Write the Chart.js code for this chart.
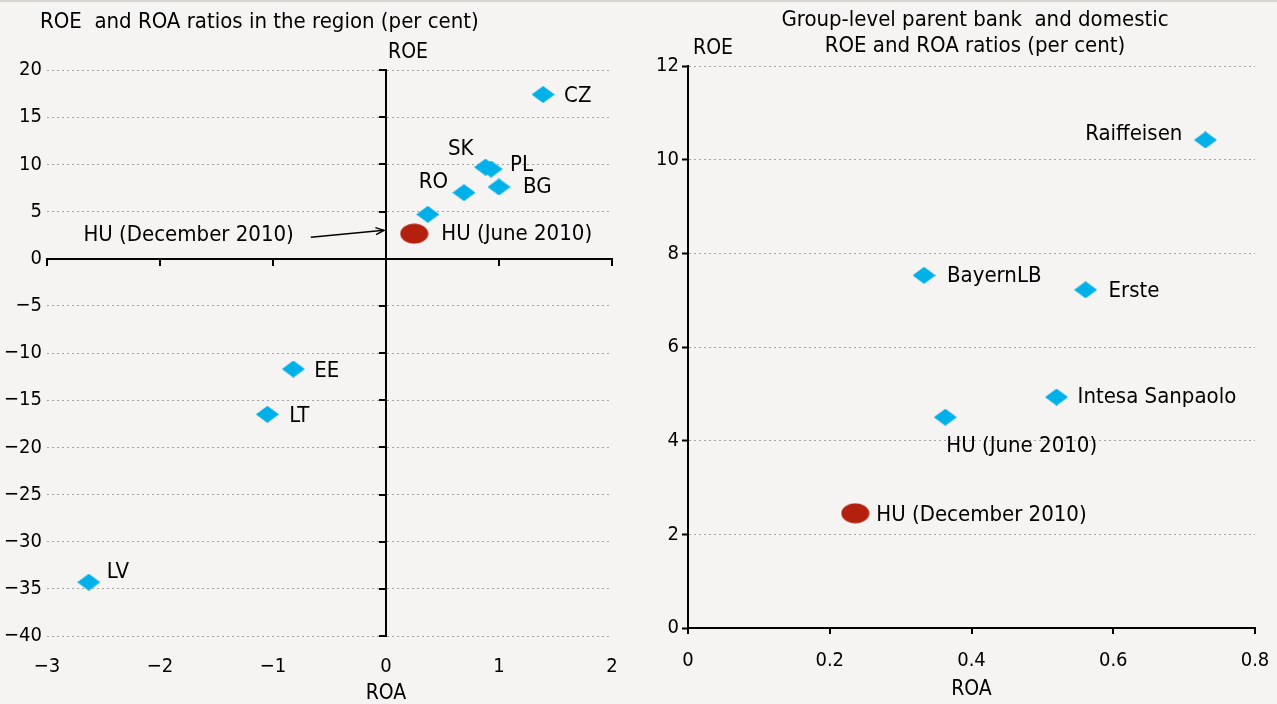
<!DOCTYPE html>
<html>
<head>
<meta charset="utf-8">
<script src="https://cdn.jsdelivr.net/npm/chart.js@4/dist/chart.umd.min.js"></script>
<style>
	body {
		margin: 0;
		width: 1277px;
		height: 704px;
		overflow: hidden;
		background: #f5f4f2;
	}
	.topline {
		position: absolute;
		left: 0;
		top: 0;
		width: 1277px;
		height: 2px;
		background: #d8d5d1;
	}
	.box {
		position: absolute;
		top: 0;
		height: 704px;
	}
	#leftBox { left: 0; width: 640px; }
	#rightBox { left: 640px; width: 637px; }
</style>
</head>
<body>
<div class="topline"></div>
<div class="box" id="leftBox"><canvas id="regionChart"></canvas></div>
<div class="box" id="rightBox"><canvas id="groupChart"></canvas></div>
<script>
//////////////////////////////// Data

// left chart: countries of the region
const regionNames = ["CZ", "SK", "PL", "BG", "RO", "HU (December 2010)", "EE", "LT", "LV"];
const regionRoa = [1.39, 0.88, 0.93, 1.0, 0.69, 0.37, -0.82, -1.05, -2.63];
const regionRoe = [17.4, 9.7, 9.5, 7.6, 7.0, 4.7, -11.7, -16.5, -34.3];
const regionHuNames = ["HU (June 2010)"];
const regionHuRoa = [0.25];
const regionHuRoe = [2.65];

// right chart: parent banks
const bankNames = ["Raiffeisen", "BayernLB", "Erste", "Intesa Sanpaolo", "HU (June 2010)"];
const bankRoa = [0.73, 0.333, 0.561, 0.52, 0.363];
const bankRoe = [10.42, 7.53, 7.22, 4.93, 4.5];
const bankHuNames = ["HU (December 2010)"];
const bankHuRoa = [0.236];
const bankHuRoe = [2.45];

const leftXTicks = [-3, 2, 1];   // min, max, step
const leftYTicks = [-40, 20, 5];
const rightXTicks = [0, 0.8, 0.2];
const rightYTicks = [0, 12, 2];

//////////////////////////////// Styles

const FONT = "'DejaVu Sans Condensed', 'DejaVu Sans', sans-serif";
const TITLE_SIZE = 22;
const LABEL_SIZE = 22;
const TICK_SIZE = 20;
const AXIS_SIZE = 21;
const blue = "#00b0e8";
const red = "#b3200e";
const gridGrey = "#a3a3a3";

function diamondImage() {
	const c = document.createElement("canvas");
	c.width = 23;
	c.height = 17;
	const g = c.getContext("2d");
	g.fillStyle = blue;
	g.beginPath();
	g.moveTo(11.5, 0);
	g.lineTo(23, 8.5);
	g.lineTo(11.5, 17);
	g.lineTo(0, 8.5);
	g.closePath();
	g.fill();
	return c;
}

function ellipseImage() {
	const c = document.createElement("canvas");
	c.width = 29;
	c.height = 21;
	const g = c.getContext("2d");
	g.fillStyle = red;
	g.beginPath();
	g.ellipse(14.5, 10.5, 14, 10, 0, 0, Math.PI * 2);
	g.fill();
	return c;
}

const diamond = diamondImage();
const ellipse = ellipseImage();

function minus(v) {
	return v < 0 ? "\u2212" + Math.abs(v) : String(v);
}

function toPoints(xs, ys) {
	return xs.map((x, i) => ({ x: x, y: ys[i] }));
}

// keep the chart area fixed, labels may overhang the edges
function noLabelPadding(s) {
	s.paddingLeft = 0;
	s.paddingRight = 0;
}

// label placement next to each marker (pixel offsets, text align)
const labelPlacement = {
	regionChart: {
		"CZ": [21, 2, "left"],
		"SK": [-12, -18, "right"],
		"PL": [19, -4, "left"],
		"BG": [24, 0, "left"],
		"RO": [-16, -10, "right"],
		"HU (December 2010)": [-134, 21, "right"],
		"EE": [21, 2, "left"],
		"LT": [22, 2, "left"],
		"LV": [18, -10, "left"],
		"HU (June 2010)": [27, 1, "left"],
	},
	groupChart: {
		"Raiffeisen": [-23, -6, "right"],
		"BayernLB": [23, 1, "left"],
		"Erste": [23, 1, "left"],
		"Intesa Sanpaolo": [21, 0, "left"],
		"HU (June 2010)": [1, 29, "left"],
		"HU (December 2010)": [21, 2, "left"],
	},
};

const pointLabels = {
	id: "pointLabels",
	afterDatasetsDraw(chart) {
		const ctx = chart.ctx;
		const place = labelPlacement[chart.canvas.id];
		ctx.save();
		ctx.font = LABEL_SIZE + "px " + FONT;
		ctx.fillStyle = "#000";
		ctx.textBaseline = "middle";
		chart.data.datasets.forEach((ds, di) => {
			const meta = chart.getDatasetMeta(di);
			meta.data.forEach((pt, i) => {
				const name = ds.names[i];
				const p = place[name];
				ctx.textAlign = p[2];
				ctx.fillText(name, pt.x + p[0], pt.y + p[1]);
				// arrow from the December label to the ROE axis
				if (chart.canvas.id === "regionChart" && name === "HU (December 2010)") {
					const x0 = pt.x - 117, y0 = pt.y + 23;
					const x1 = chart.scales.x.getPixelForValue(0) - 2, y1 = pt.y + 16;
					ctx.strokeStyle = "#000";
					ctx.lineWidth = 1.5;
					ctx.beginPath();
					ctx.moveTo(x0, y0);
					ctx.lineTo(x1, y1);
					ctx.stroke();
					const a = Math.atan2(y1 - y0, x1 - x0);
					ctx.beginPath();
					ctx.moveTo(x1 - 9 * Math.cos(a - 0.4), y1 - 9 * Math.sin(a - 0.4));
					ctx.lineTo(x1, y1);
					ctx.lineTo(x1 - 9 * Math.cos(a + 0.4), y1 - 9 * Math.sin(a + 0.4));
					ctx.stroke();
				}
			});
		});
		ctx.restore();
	},
};

const chartTexts = {
	id: "chartTexts",
	afterDraw(chart) {
		const ctx = chart.ctx;
		const o = chart.options.plugins.chartTexts;
		ctx.save();
		ctx.fillStyle = "#000";
		ctx.textBaseline = "middle";
		ctx.font = TITLE_SIZE + "px " + FONT;
		o.lines.forEach((l) => {
			ctx.textAlign = l.align;
			ctx.fillText(l.text, l.x, l.y);
		});
		const xs = chart.scales.x;
		ctx.font = AXIS_SIZE + "px " + FONT;
		ctx.textAlign = "left";
		ctx.fillText("ROE", o.roeX, o.roeY);
		ctx.textAlign = "center";
		ctx.fillText("ROA", o.roaCenter ? (xs.left + xs.right) / 2 : xs.getPixelForValue(0), o.roaY);
		ctx.restore();
	},
};

//////////////////////////////// Region Chart

const tickFont = { family: FONT, size: TICK_SIZE };

new Chart(document.getElementById("regionChart"), {
	type: "scatter",
	data: {
		datasets: [
			{
				data: toPoints(regionRoa, regionRoe),
				names: regionNames,
				pointStyle: diamond,
				pointRadius: 11,
			},
			{
				data: toPoints(regionHuRoa, regionHuRoe),
				names: regionHuNames,
				pointStyle: ellipse,
				pointRadius: 14,
			},
		],
	},
	options: {
		responsive: true,
		maintainAspectRatio: false,
		animation: false,
		layout: { padding: { left: 0, right: 28, top: 70, bottom: 0 } },
		scales: {
			x: {
				type: "linear",
				position: "bottom",
				min: leftXTicks[0],
				max: leftXTicks[1],
				ticks: { stepSize: leftXTicks[2], color: "#000", font: tickFont, padding: 19, callback: minus, maxRotation: 0 },
				grid: { display: false, drawTicks: false },
				border: { display: false },
				afterFit: (s) => { s.height = 68; noLabelPadding(s); },
			},
			x0: {
				type: "linear",
				position: { y: 0 },
				min: leftXTicks[0],
				max: leftXTicks[1],
				ticks: { stepSize: leftXTicks[2], display: false },
				grid: { drawOnChartArea: false, drawTicks: true, tickLength: 6, color: "#000", lineWidth: 2 },
				border: { color: "#000", width: 2 },
			},
			y: {
				type: "linear",
				position: "left",
				min: leftYTicks[0],
				max: leftYTicks[1],
				ticks: { stepSize: leftYTicks[2], color: "#000", font: tickFont, padding: 5, callback: minus },
				grid: {
					drawTicks: false,
					lineWidth: 1,
					color: (c) => (c.tick && c.tick.value === 0 ? "rgba(0,0,0,0)" : gridGrey),
				},
				border: { display: false, dash: [2, 3] },
				afterFit: (s) => { s.width = 47; },
			},
			y0: {
				type: "linear",
				position: { x: 0 },
				min: leftYTicks[0],
				max: leftYTicks[1],
				ticks: { stepSize: leftYTicks[2], display: false },
				grid: { drawOnChartArea: false, drawTicks: true, tickLength: 6, color: "#000", lineWidth: 2 },
				border: { color: "#000", width: 2 },
			},
		},
		plugins: {
			legend: { display: false },
			tooltip: { enabled: false },
			chartTexts: {
				lines: [{ text: "ROE  and ROA ratios in the region (per cent)", x: 40, y: 22, align: "left" }],
				roeX: 388,
				roeY: 53,
				roaY: 694,
				roaCenter: false,
			},
		},
	},
	plugins: [pointLabels, chartTexts],
});

//////////////////////////////// Parent bank Chart

new Chart(document.getElementById("groupChart"), {
	type: "scatter",
	data: {
		datasets: [
			{
				data: toPoints(bankRoa, bankRoe),
				names: bankNames,
				pointStyle: diamond,
				pointRadius: 11,
			},
			{
				data: toPoints(bankHuRoa, bankHuRoe),
				names: bankHuNames,
				pointStyle: ellipse,
				pointRadius: 14,
			},
		],
	},
	options: {
		responsive: true,
		maintainAspectRatio: false,
		animation: false,
		layout: { padding: { left: 0, right: 22, top: 66, bottom: 0 } },
		scales: {
			x: {
				type: "linear",
				position: "bottom",
				min: rightXTicks[0],
				max: rightXTicks[1],
				ticks: { stepSize: rightXTicks[2], color: "#000", font: tickFont, padding: 15, maxRotation: 0 },
				grid: { drawOnChartArea: false, drawTicks: true, tickLength: 6, color: "#000", lineWidth: 2 },
				border: { color: "#000", width: 2 },
				afterFit: (s) => { s.height = 76; noLabelPadding(s); },
			},
			y: {
				type: "linear",
				position: "left",
				min: rightYTicks[0],
				max: rightYTicks[1],
				ticks: { stepSize: rightYTicks[2], color: "#000", font: tickFont, padding: 3 },
				grid: {
					lineWidth: 1,
					tickLength: 6,
					tickColor: "#000",
					tickWidth: 2,
					color: (c) => (c.tick && c.tick.value === 0 ? "rgba(0,0,0,0)" : gridGrey),
				},
				border: { color: "#000", width: 2, dash: [2, 3] },
				afterFit: (s) => { s.width = 48; },
			},
		},
		plugins: {
			legend: { display: false },
			tooltip: { enabled: false },
			chartTexts: {
				lines: [
					{ text: "Group-level parent bank  and domestic", x: 335, y: 20, align: "center" },
					{ text: "ROE and ROA ratios (per cent)", x: 335, y: 46, align: "center" },
				],
				roeX: 53,
				roeY: 49,
				roaY: 690,
				roaCenter: true,
			},
		},
	},
	plugins: [pointLabels, chartTexts],
});
</script>
</body>
</html>
